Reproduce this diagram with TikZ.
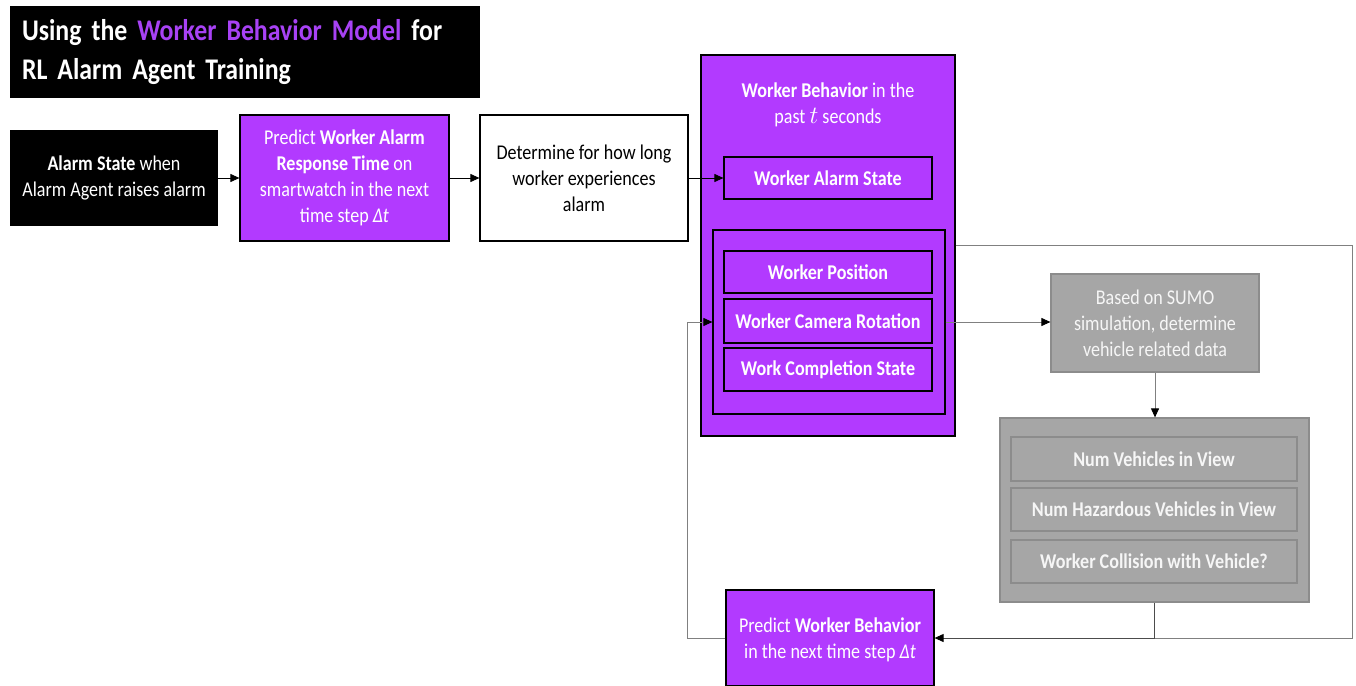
\documentclass[tikz,border=0pt]{standalone}
\usepackage{fontspec}
\setmainfont[FakeStretch=0.86]{Carlito}
\usetikzlibrary{arrows.meta}
\definecolor{wpurple}{RGB}{178,58,255}
\definecolor{tpurple}{RGB}{168,66,245}
\definecolor{gfill}{RGB}{166,166,166}
\definecolor{gedge}{RGB}{140,140,140}
\definecolor{gline}{RGB}{128,128,128}
\newcommand{\dt}{{\itshape Δt}}
\tikzset{
  box/.style={rectangle, inner sep=0pt, align=center, font=\fontsize{21}{26}\selectfont},
  purplebox/.style={box, fill=wpurple, draw=black, line width=1.2pt, text=white},
  graybox/.style={box, fill=gfill, draw=gedge, line width=1.2pt, text=white!93!gray},
  itembox/.style={font=\fontsize{21}{24}\selectfont\bfseries},
  tip/.style={-{Triangle[length=9pt,width=8pt,color=black]}},
  conn/.style={tip, draw=black, line width=0.9pt},
  gconn/.style={tip, draw=gline, line width=0.9pt},
}
\begin{document}
\begin{tikzpicture}[x=1pt,y=-1pt]
\clip (0,0) rectangle (1356,685);
\fill[white] (0,0) rectangle (1356,685);

% heading
\node[box, fill=black, text=white, minimum width=470, minimum height=92,
      text width=446, align=left, font=\fontsize{30}{39}\selectfont\bfseries]
  (title) at (245,52) {Using the \textcolor{tpurple}{Worker Behavior Model} for\\RL Alarm Agent Training};

% top row
\node[box, fill=black, text=white, minimum width=208, minimum height=96] (alarm) at (114,178)
  {\textbf{Alarm State} when\\Alarm Agent raises alarm};
\node[purplebox, minimum width=209, minimum height=126] (predA) at (344.5,178)
  {Predict \textbf{Worker Alarm}\\\textbf{Response Time} on\\smartwatch in the next\\time step \dt};
\node[box, fill=white, draw=black, line width=1.2pt, minimum width=208, minimum height=126] (determ) at (584,178)
  {Determine for how long\\worker experiences\\alarm};

% worker behavior block
\node[purplebox, minimum width=254, minimum height=381] (wb) at (828,245.5) {};
\node[box, text=white] (wbtitle) at (828,105) {\textbf{Worker Behavior} in the\\past {\fontsize{24}{26}\selectfont$t$} seconds};
\node[purplebox, itembox, minimum width=208, minimum height=42] (was) at (828,178) {Worker Alarm State};
\node[purplebox, minimum width=232, minimum height=184] (grp) at (829,322) {};
\node[purplebox, itembox, minimum width=208, minimum height=42] (wpos) at (828,272) {Worker Position};
\node[purplebox, itembox, minimum width=208, minimum height=44] (wcam) at (828,321) {Worker Camera Rotation};
\node[purplebox, itembox, minimum width=208, minimum height=43] (wcomp) at (828,369.5) {Work Completion State};

% vehicle data
\node[graybox, minimum width=208, minimum height=98] (sumo) at (1155,323)
  {Based on SUMO\\simulation, determine\\vehicle related data};
\node[graybox, minimum width=309, minimum height=184] (ggrp) at (1154.5,510) {};
\node[graybox, itembox, minimum width=286, minimum height=44] (nv) at (1154,459) {Num Vehicles in View};
\node[graybox, itembox, minimum width=286, minimum height=43] (nh) at (1154,509.5) {Num Hazardous Vehicles in View};
\node[graybox, itembox, minimum width=286, minimum height=43] (wc) at (1154,561.5) {Worker Collision with Vehicle?};

% next-step prediction
\node[purplebox, minimum width=208, minimum height=96] (predB) at (830,638) {};
\node[box, text=white] (predBtext) at (830,640)
  {Predict \textbf{Worker Behavior}\\in the next time step \dt};

% connectors
\coordinate (rt) at (1352,245);
\coordinate (lt) at (687,638);
\draw[conn] (alarm.east) -- (predA.west);
\draw[conn] (predA.east) -- (determ.west);
\draw[conn] (determ.east) -- (was.west);
\draw[gconn] (grp.east) -- (grp.east -| sumo.west);
\draw[gconn] (sumo.south) -- (sumo.south |- ggrp.north);
\draw[draw=gline, line width=0.9pt] (wb.east |- rt) -- (rt) |- (ggrp.south |- predB.east);
\draw[conn, draw=black!70] (ggrp.south) |- (predB.east);
\draw[gconn] (predB.west) -- (lt) |- (grp.west);
\end{tikzpicture}
\end{document}
